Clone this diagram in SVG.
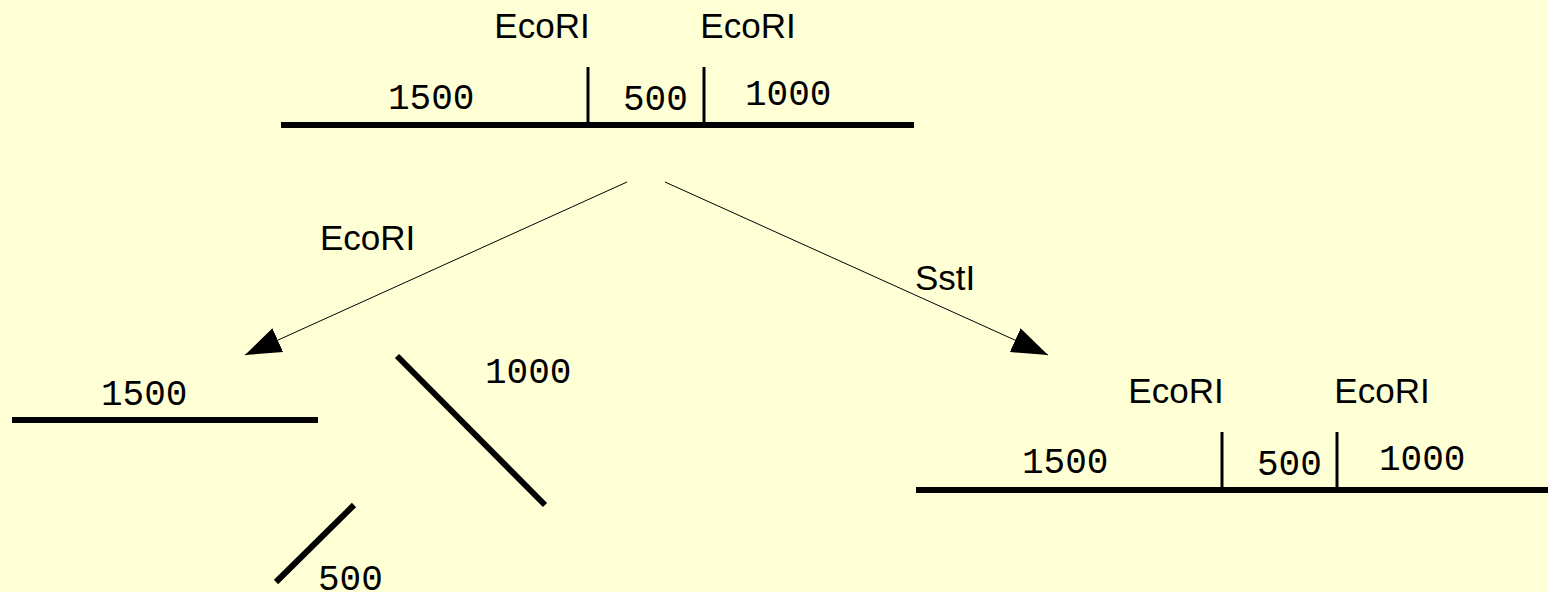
<svg xmlns="http://www.w3.org/2000/svg" width="1548" height="592" viewBox="0 0 1548 592">
<style>
.bg{fill:#ffffd5}
.dna{stroke:#000;stroke-width:6;fill:none}
.cut{stroke:#000;stroke-width:3;fill:none}
.conn{stroke:#000;stroke-width:1;fill:none}
.enz{font-family:"Liberation Sans",Arial,sans-serif;font-size:35px;fill:#000}
.num{font-family:"Liberation Mono","Courier New",monospace;font-size:36px;fill:#000}
</style>
<defs>
<marker id="arr" markerWidth="36" markerHeight="26" refX="36" refY="13" orient="auto" markerUnits="userSpaceOnUse">
<path d="M0,0 L36,13 L0,26 z" fill="#000"/>
</marker>
</defs>
<rect class="bg" x="0" y="0" width="1548" height="592"/>
<g id="original">
<line class="dna" x1="281" y1="125" x2="914" y2="125"/>
<line class="cut" x1="588" y1="67" x2="588" y2="125"/>
<line class="cut" x1="704" y1="67" x2="704" y2="125"/>
<text class="enz" x="542" y="38" text-anchor="middle">EcoRI</text>
<text class="enz" x="748" y="38" text-anchor="middle">EcoRI</text>
<text class="num" x="388" y="109">1500</text>
<text class="num" x="623" y="110">500</text>
<text class="num" x="745" y="105">1000</text>
</g>
<g id="connectors">
<line class="conn" x1="627" y1="182" x2="245" y2="355" marker-end="url(#arr)"/>
<line class="conn" x1="665" y1="182" x2="1048" y2="355" marker-end="url(#arr)"/>
<text class="enz" x="320" y="250">EcoRI</text>
<text class="enz" x="915" y="290">SstI</text>
</g>
<g id="ecori-digest">
<line class="dna" x1="12" y1="420" x2="318" y2="420"/>
<text class="num" x="101" y="405">1500</text>
<line class="dna" x1="397" y1="356" x2="545" y2="505"/>
<text class="num" x="485" y="383">1000</text>
<line class="dna" x1="276" y1="582" x2="354" y2="505"/>
<text class="num" x="318" y="590">500</text>
</g>
<g id="ssti-digest">
<line class="dna" x1="916" y1="490" x2="1548" y2="490"/>
<line class="cut" x1="1222" y1="432" x2="1222" y2="490"/>
<line class="cut" x1="1337" y1="432" x2="1337" y2="490"/>
<text class="enz" x="1176" y="403" text-anchor="middle">EcoRI</text>
<text class="enz" x="1382" y="403" text-anchor="middle">EcoRI</text>
<text class="num" x="1022" y="473">1500</text>
<text class="num" x="1257" y="475">500</text>
<text class="num" x="1379" y="470">1000</text>
</g>
</svg>
